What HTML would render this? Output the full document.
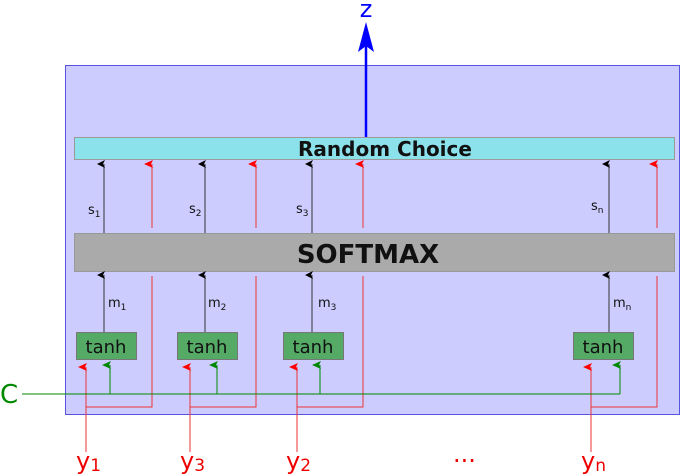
<!DOCTYPE html>
<html><head><meta charset="utf-8"><style>
html,body{margin:0;padding:0;background:#fff;}
svg{display:block;font-family:"DejaVu Sans","Liberation Sans",sans-serif;}
</style></head><body>
<svg width="681" height="476" viewBox="0 0 681 476" xmlns="http://www.w3.org/2000/svg">
<defs>
<marker id="ak" markerWidth="8" markerHeight="8" refX="4" refY="7" orient="auto" markerUnits="userSpaceOnUse"><path d="M0,8 L4,0 L8,8 L4,6 Z" fill="#000"/></marker>
<marker id="ar" markerWidth="8" markerHeight="9" refX="4" refY="8" orient="auto" markerUnits="userSpaceOnUse"><path d="M0,9 L4,0 L8,9 L4,7 Z" fill="#f00"/></marker>
<marker id="ag" markerWidth="8" markerHeight="9" refX="4" refY="8" orient="auto" markerUnits="userSpaceOnUse"><path d="M0,9 L4,0 L8,9 L4,7 Z" fill="#080"/></marker>
</defs>
<rect x="65.5" y="65.5" width="614" height="349" fill="#ccccff" stroke="#5555dd" stroke-width="1"/>
<rect x="74.5" y="137.5" width="600" height="22" fill="#8ce2ea" stroke="#999" stroke-width="1"/>
<text x="385" y="156" font-size="20" font-weight="bold" text-anchor="middle" fill="#111">Random Choice</text>
<rect x="74.5" y="233.5" width="600" height="38" fill="#aaaaaa" stroke="#999" stroke-width="1"/>
<text x="368" y="263" font-size="26" font-weight="bold" text-anchor="middle" fill="#111">SOFTMAX</text>
<!-- blue arrow -->
<line x1="366" y1="137" x2="366" y2="40" stroke="#0000ff" stroke-width="2.5"/>
<path d="M358,52 L366,22 L374,52 L366,46 Z" fill="#0000ff"/>
<text x="366" y="17" font-size="24" fill="#0000ff" text-anchor="middle">z</text>
<g stroke-width="1">
<!-- columns -->
<g stroke="#333">
<line x1="104" y1="332" x2="104" y2="275" marker-end="url(#ak)"/>
<line x1="104" y1="233" x2="104" y2="164" marker-end="url(#ak)"/>
<line x1="205" y1="332" x2="205" y2="275" marker-end="url(#ak)"/>
<line x1="205" y1="233" x2="205" y2="164" marker-end="url(#ak)"/>
<line x1="312" y1="332" x2="312" y2="275" marker-end="url(#ak)"/>
<line x1="312" y1="233" x2="312" y2="164" marker-end="url(#ak)"/>
<line x1="609" y1="332" x2="609" y2="275" marker-end="url(#ak)"/>
<line x1="609" y1="233" x2="609" y2="164" marker-end="url(#ak)"/>
</g>
<g stroke="#ee3333" fill="none">
<path d="M86,452 V367" marker-end="url(#ar)"/>
<path d="M86,407 H152 V276"/><path d="M152,228 V164" marker-end="url(#ar)"/>
<path d="M190,452 V367" marker-end="url(#ar)"/>
<path d="M190,407 H256 V276"/><path d="M256,228 V164" marker-end="url(#ar)"/>
<path d="M297,452 V367" marker-end="url(#ar)"/>
<path d="M297,407 H363 V276"/><path d="M363,228 V164" marker-end="url(#ar)"/>
<path d="M591,452 V367" marker-end="url(#ar)"/>
<path d="M591,407 H657 V276"/><path d="M657,228 V164" marker-end="url(#ar)"/>
</g>
<g stroke="#008800" fill="none">
<line x1="22" y1="394" x2="620" y2="394"/>
<line x1="110" y1="394" x2="110" y2="365" marker-end="url(#ag)"/>
<line x1="217" y1="394" x2="217" y2="365" marker-end="url(#ag)"/>
<line x1="320" y1="394" x2="320" y2="365" marker-end="url(#ag)"/>
<line x1="620" y1="394" x2="620" y2="365" marker-end="url(#ag)"/>
</g>
</g>
<g fill="#55aa66" stroke="#777">
<rect x="76.5" y="332.5" width="60" height="27"/>
<rect x="177.5" y="332.5" width="60" height="27"/>
<rect x="283.5" y="332.5" width="60" height="27"/>
<rect x="573.5" y="332.5" width="60" height="27"/>
</g>
<g font-size="18" fill="#111" text-anchor="middle">
<text x="106" y="353">tanh</text><text x="207" y="353">tanh</text>
<text x="313" y="353">tanh</text><text x="603" y="353">tanh</text>
</g>
<g font-size="13" fill="#111">
<text x="88" y="214">s<tspan font-size="9" dy="3">1</tspan></text>
<text x="189" y="213">s<tspan font-size="9" dy="3">2</tspan></text>
<text x="296" y="213">s<tspan font-size="9" dy="3">3</tspan></text>
<text x="591" y="210">s<tspan font-size="9" dy="3">n</tspan></text>
<text x="108" y="307">m<tspan font-size="9" dy="3">1</tspan></text>
<text x="208" y="307">m<tspan font-size="9" dy="3">2</tspan></text>
<text x="318" y="307">m<tspan font-size="9" dy="3">3</tspan></text>
<text x="613" y="307">m<tspan font-size="9" dy="3">n</tspan></text>
</g>
<text x="0" y="403" font-size="26" fill="#008800">C</text>
<g font-size="24" fill="#ee0000">
<text x="76" y="469">y<tspan font-size="17" dy="2">1</tspan></text>
<text x="180" y="469">y<tspan font-size="17" dy="2">3</tspan></text>
<text x="286" y="469">y<tspan font-size="17" dy="2">2</tspan></text>
<text x="581" y="469">y<tspan font-size="17" dy="2">n</tspan></text>
<text x="453" y="462">...</text>
</g>
</svg>
</body></html>
